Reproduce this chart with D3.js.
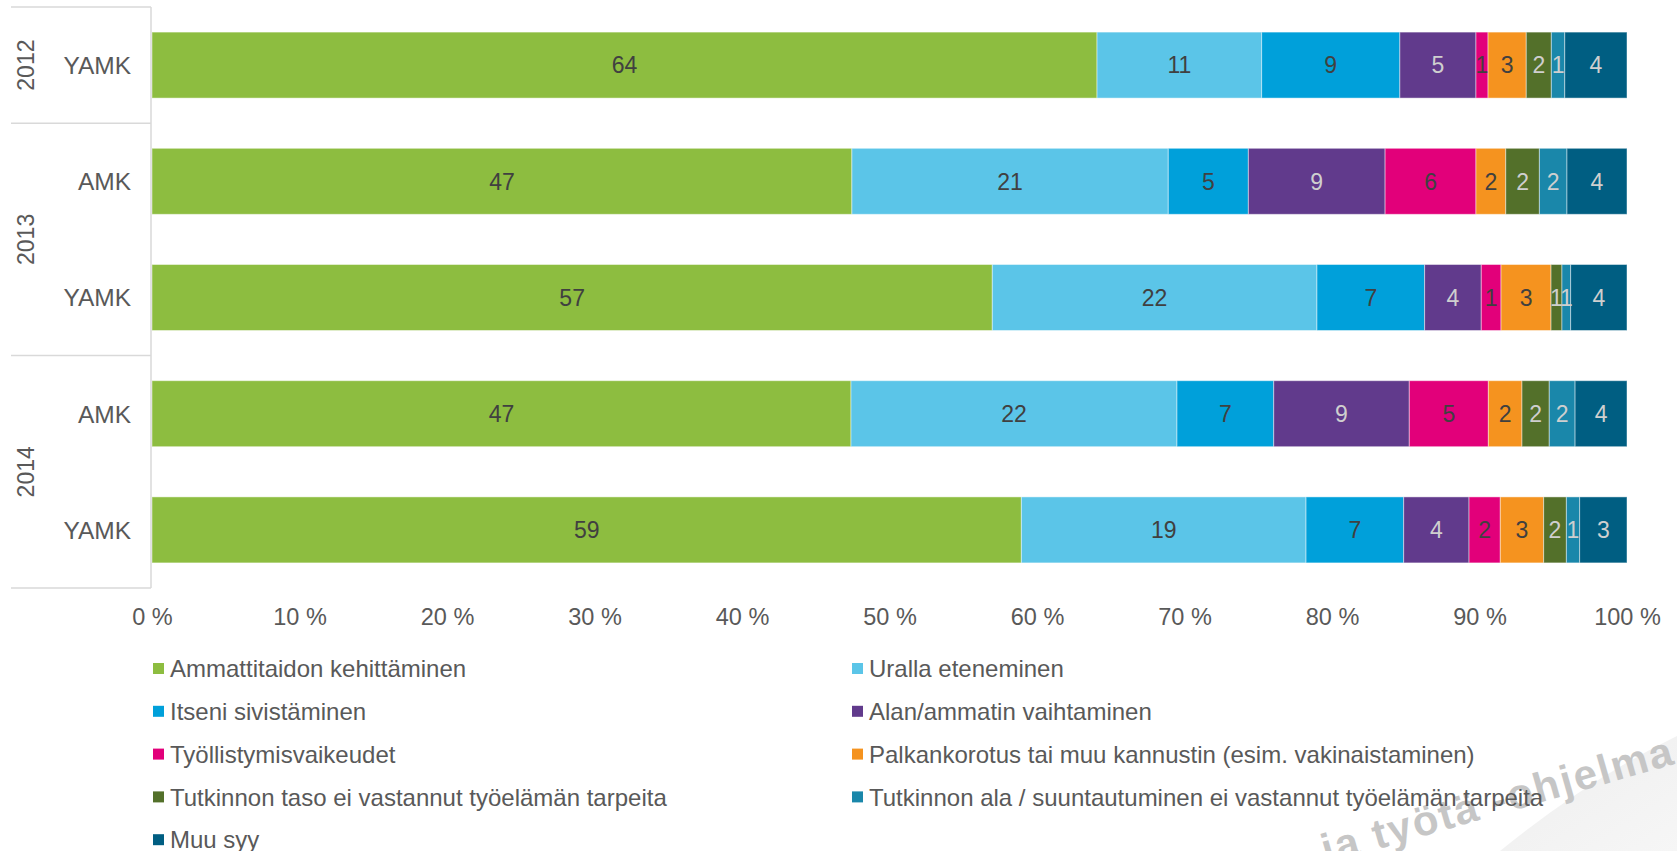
<!DOCTYPE html>
<html>
<head>
<meta charset="utf-8">
<script src="https://cdn.jsdelivr.net/npm/d3@7"></script>
<style>
  html, body { margin: 0; padding: 0; background: #ffffff; overflow: hidden; }
  svg { display: block; font-family: "Liberation Sans", Arial, sans-serif; }
</style>
</head>
<body>
<svg id="chart" width="1677" height="851"></svg>
<script>
// ---------- data ----------
const years = ["2012", "2013", "2013", "2014", "2014"];
const categories = ["YAMK", "AMK", "YAMK", "AMK", "YAMK"];
const seriesNames = [
  "Ammattitaidon kehittäminen",
  "Uralla eteneminen",
  "Itseni sivistäminen",
  "Alan/ammatin vaihtaminen",
  "Työllistymisvaikeudet",
  "Palkankorotus tai muu kannustin (esim. vakinaistaminen)",
  "Tutkinnon taso ei vastannut työelämän tarpeita",
  "Tutkinnon ala / suuntautuminen ei vastannut työelämän tarpeita",
  "Muu syy"
];
const ammattitaito = [64.07, 47.45, 56.97, 47.39, 58.94];
const uralla       = [11.16, 21.45, 22.01, 22.10, 19.30];
const sivistaminen = [9.37, 5.43, 7.30, 6.56, 6.62];
const alanVaihto   = [5.16, 9.27, 3.84, 9.19, 4.43];
const tyollistyminen = [0.82, 6.16, 1.34, 5.36, 2.12];
const palkankorotus  = [2.59, 2.02, 3.39, 2.28, 2.94];
const tasoEi       = [1.70, 2.28, 0.74, 1.85, 1.54];
const alaEi        = [0.91, 1.87, 0.59, 1.75, 0.90];
const muuSyy       = [4.22, 4.07, 3.82, 3.52, 3.21];
const tickValues = [0, 10, 20, 30, 40, 50, 60, 70, 80, 90, 100];
const watermarkText = "ja työtä -ohjelma";

const seriesValues = [ammattitaito, uralla, sivistaminen, alanVaihto, tyollistyminen,
                      palkankorotus, tasoEi, alaEi, muuSyy];
const colors = ["#8DBD40", "#5BC5E8", "#00A0DA", "#613A8C", "#E2007A",
                "#F5931F", "#53702A", "#1A87AA", "#005E82"];
const labelColors = ["#404040", "#404040", "#404040", "#cfcfcf", "#404040",
                     "#404040", "#cfcfcf", "#cfcfcf", "#cfcfcf"];

// ---------- table ----------
const rowKeys = categories.map((c, i) => years[i] + "|" + c);
const table = rowKeys.map((k, i) => {
  const o = { key: k };
  seriesNames.forEach((s, j) => { o[s] = seriesValues[j][i]; });
  return o;
});

const svg = d3.select("#chart");
const fontSize = 23;
const textColor = "#595959";

const x = d3.scaleLinear().domain([0, 100]).range([152, 1627]);
const y = d3.scaleBand().domain(rowKeys).range([7, 588]).paddingInner(0.432).paddingOuter(0.216);

const stack = d3.stack().keys(seriesNames);
const stacked = stack(table);

// watermark background
const defs = svg.append("defs");
const grad = defs.append("linearGradient").attr("id", "wm").attr("x1", 0).attr("y1", 0).attr("x2", 1).attr("y2", 1);
grad.append("stop").attr("offset", "0").attr("stop-color", "#eeeeee");
grad.append("stop").attr("offset", "1").attr("stop-color", "#f6f6f6");
svg.append("path")
  .attr("d", "M1500,851 Q1590,778 1677,736 L1677,851 Z")
  .attr("fill", "url(#wm)");
svg.append("text")
  .attr("transform", "translate(1326,864) rotate(-16)")
  .attr("font-size", 42)
  .attr("font-weight", "bold")
  .attr("fill", "#c6c6c6")
  .attr("letter-spacing", 2)
  .text(watermarkText);

// bars
const g = svg.append("g");
stacked.forEach((layer, j) => {
  g.append("g")
    .selectAll("rect")
    .data(layer)
    .join("rect")
    .attr("x", d => x(d[0]))
    .attr("width", d => x(d[1]) - x(d[0]))
    .attr("y", d => y(d.data.key))
    .attr("height", y.bandwidth())
    .attr("fill", colors[j])
    .attr("stroke", "rgba(255,255,255,0.45)")
    .attr("stroke-width", 1);
});

// bar labels
stacked.forEach((layer, j) => {
  g.append("g")
    .selectAll("text")
    .data(layer)
    .join("text")
    .attr("x", d => (x(d[0]) + x(d[1])) / 2)
    .attr("y", d => y(d.data.key) + y.bandwidth() / 2)
    .attr("dy", "0.36em")
    .attr("text-anchor", "middle")
    .attr("font-size", fontSize)
    .attr("fill", labelColors[j])
    .text(d => Math.round(d[1] - d[0]));
});

// category axis box
const step = y.step();
const pad = step * y.paddingInner() / 2;
const cellTop = k => y(k) - pad;
const groupBounds = [];
years.forEach((yr, i) => {
  if (i === 0 || years[i - 1] !== yr) groupBounds.push({ year: yr, start: rowKeys[i], end: rowKeys[i] });
  else groupBounds[groupBounds.length - 1].end = rowKeys[i];
});
const lineColor = "#d9d9d9";
const axisG = svg.append("g");
groupBounds.forEach(gb => {
  const top = cellTop(gb.start);
  const bottom = cellTop(gb.end) + step;
  axisG.append("line").attr("x1", 11).attr("x2", 151).attr("y1", top).attr("y2", top)
    .attr("stroke", lineColor).attr("stroke-width", 1.5);
  axisG.append("text")
    .attr("transform", `translate(26,${(top + bottom) / 2}) rotate(-90)`)
    .attr("text-anchor", "middle")
    .attr("dy", "0.36em")
    .attr("font-size", fontSize)
    .attr("fill", textColor)
    .text(gb.year);
});
axisG.append("line").attr("x1", 11).attr("x2", 151)
  .attr("y1", y.range()[1]).attr("y2", y.range()[1])
  .attr("stroke", lineColor).attr("stroke-width", 1.5);
axisG.append("line").attr("x1", 151).attr("x2", 151)
  .attr("y1", y.range()[0]).attr("y2", y.range()[1])
  .attr("stroke", lineColor).attr("stroke-width", 1.5);

axisG.selectAll("text.cat")
  .data(rowKeys)
  .join("text")
  .attr("class", "cat")
  .attr("x", 131)
  .attr("y", k => y(k) + y.bandwidth() / 2)
  .attr("dy", "0.36em")
  .attr("text-anchor", "end")
  .attr("font-size", 24.5)
  .attr("fill", textColor)
  .text((k, i) => categories[i]);

// x axis
const xAxis = d3.axisBottom(x).tickValues(tickValues).tickSize(0).tickPadding(0)
  .tickFormat(d => d + " %");
const xg = svg.append("g").attr("transform", "translate(0,617)").call(xAxis);
xg.select(".domain").remove();
xg.selectAll("text")
  .attr("y", 0)
  .attr("dy", "0.36em")
  .attr("font-size", 23.5)
  .attr("font-family", "Liberation Sans, Arial, sans-serif")
  .attr("fill", textColor);

// legend
const legendX = [153, 852];
const legend = svg.append("g");
seriesNames.forEach((s, i) => {
  const col = i % 2, row = Math.floor(i / 2);
  const cy = 668.5 + row * 42.8;
  const item = legend.append("g").attr("transform", `translate(${legendX[col]},${cy})`);
  item.append("rect").attr("x", 0).attr("y", -5.5).attr("width", 11).attr("height", 11).attr("fill", colors[i]);
  item.append("text").attr("x", 17).attr("dy", "0.36em")
    .attr("font-size", 24).attr("fill", textColor).text(s);
});
</script>
</body>
</html>
